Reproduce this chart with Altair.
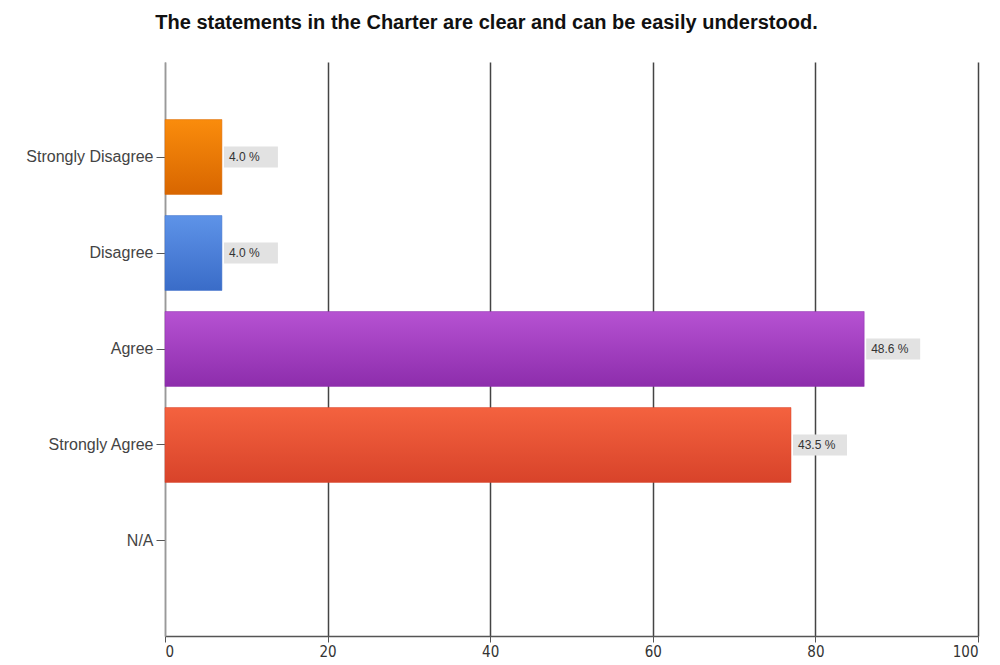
import altair as alt
import pandas as pd

categories = ["Strongly Disagree", "Disagree", "Agree", "Strongly Agree", "N/A"]
counts = [7, 7, 86, 77, 0]
percents = ["4.0 %", "4.0 %", "48.6 %", "43.5 %", ""]
top_colors = ["#FA8C0C", "#5E93E8", "#B652D2", "#F4623F", "#ffffff"]
bottom_colors = ["#D86600", "#3A6CC8", "#8D2DAC", "#D8432A", "#ffffff"]

df = pd.DataFrame({"cat": categories, "count": counts, "label": percents})
lab_df = df[df["label"] != ""]

yscale = alt.Scale(domain=categories, paddingInner=0.22, paddingOuter=0.6)
yenc = alt.Y("cat:N", title=None, scale=yscale,
             axis=alt.Axis(labelFont="Liberation Sans", labelFontSize=16,
                           labelColor="#444", tickColor="#555", tickSize=9,
                           labelPadding=3, domainColor="#999", domainWidth=1.5))
xenc = alt.X("count:Q", title=None,
             scale=alt.Scale(domain=[0, 100], nice=False),
             axis=alt.Axis(values=[0, 20, 40, 60, 80, 100], grid=True,
                           gridColor={"condition": {"test": "datum.value === 0", "value": "#999"}, "value": "#444"},
                           gridWidth=1.5, domainColor="#555", domainWidth=1.5,
                           tickColor="#555", tickSize=6,
                           labelFont="DejaVu Sans Condensed", labelFontSize=15,
                           labelColor="#333", labelPadding=2))

layers = []
for i, c in enumerate(categories):
    if counts[i] == 0:
        continue
    layers.append(
        alt.Chart(df).transform_filter(alt.datum.cat == c).mark_bar(
            color=alt.Gradient(gradient="linear", x1=0, x2=0, y1=0, y2=1,
                               stops=[alt.GradientStop(color=top_colors[i], offset=0),
                                      alt.GradientStop(color=bottom_colors[i], offset=1)]),
            stroke=bottom_colors[i], strokeWidth=0.5
        ).encode(x=xenc, y=yenc)
    )

boxes = alt.Chart(lab_df).mark_bar(color="#e2e2e2", height=21, xOffset=2, x2Offset=56).encode(
    x=alt.X("count:Q"), x2="count:Q", y=alt.Y("cat:N", scale=yscale))
texts = alt.Chart(lab_df).mark_text(align="left", baseline="middle", dx=7,
                                    font="Liberation Sans", fontSize=12, color="#333").encode(
    x="count:Q", y=alt.Y("cat:N", scale=yscale), text="label:N")

chart = alt.layer(*layers, boxes, texts).properties(
    width=813, height=574,
    title=alt.TitleParams("The statements in the Charter are clear and can be easily understood.",
                          font="Liberation Sans", fontSize=20, fontWeight="bold", color="#111",
                          anchor="middle", dx=-85, offset=29),
    autosize=alt.AutoSizeParams(type="none"),
    padding={"left": 165, "top": 62, "right": 22, "bottom": 29},
).configure(background="white").configure_view(stroke=None)

chart.save("out.html", embed_options={"renderer": "svg", "actions": False})
